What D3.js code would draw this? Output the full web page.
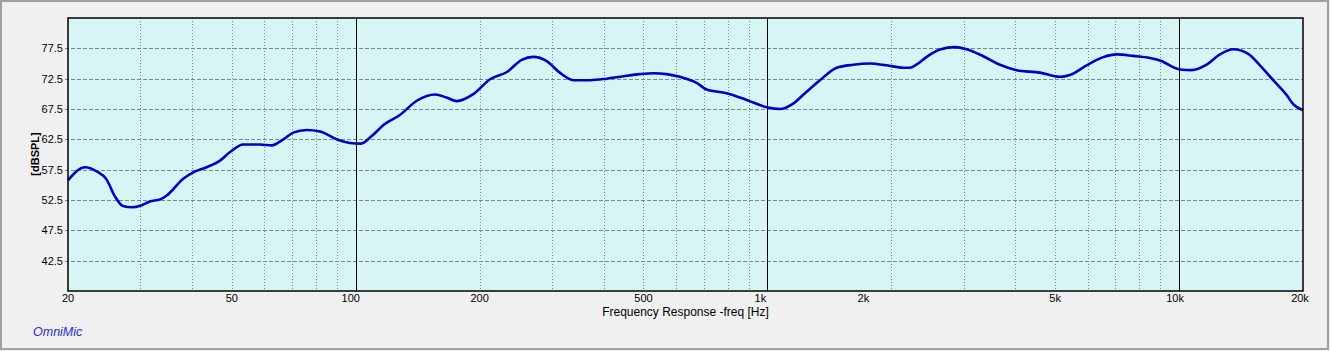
<!DOCTYPE html>
<html>
<head>
<meta charset="utf-8">
<script src="https://cdn.jsdelivr.net/npm/d3@7"></script>
<style>
    body { margin: 0; background: #f0f0f0; }
    svg text { font-family: "Liberation Sans", Arial, sans-serif; }
</style>
</head>
<body>
<div id="chart-area"></div>
<script>
// frequency response
var freqs = [20, 22, 23.5, 24.8, 26, 27.2, 28.6, 30.2, 31.6, 33.5, 34.7, 38.1, 40.3, 43.4, 46.8, 49.5,
    53.3, 58.5, 62.5, 66.7, 70.5, 76, 81.9, 89.9, 96.8, 103, 109, 117, 128, 141, 156, 166, 176, 193,
    212, 233, 253, 270, 291, 313, 338, 371, 407, 447, 490, 528, 569, 613, 673, 712, 796, 890, 996,
    1073, 1155, 1245, 1342, 1473, 1616, 1774, 1948, 2139, 2219, 2300, 2437, 2625, 2854, 3048, 3344,
    3672, 4032, 4592, 5135, 5430, 5963, 6541, 7052, 7738, 8496, 8985, 10046, 10726, 11666, 12568,
    13538, 14725, 15720, 16932, 18251, 18934, 20000];
var spl = [55.75, 57.9, 57.2, 55.9, 53.1, 51.5, 51.3, 51.65, 52.25, 52.6, 53.2, 56.0, 57.05, 57.9, 59.0, 60.4,
    61.65, 61.65, 61.5, 62.5, 63.6, 64.05, 63.8, 62.5, 61.9, 61.8, 62.95, 64.9, 66.5, 68.9, 69.9, 69.4, 68.8, 69.95,
    72.4, 73.6, 75.6, 76.1, 75.4, 73.5, 72.25, 72.25, 72.5, 72.9, 73.25, 73.4, 73.25, 72.8, 71.8, 70.7, 70.1, 69.0, 67.8,
    67.5, 68.4, 70.35, 72.25, 74.3, 74.8, 75.0, 74.7, 74.3, 74.3, 74.8, 76.1, 77.3, 77.7, 77.35, 76.2,
    74.8, 73.9, 73.5, 72.8, 73.1, 74.7, 76.05, 76.5, 76.25, 75.9, 75.5, 74.0, 73.9, 74.8, 76.5,
    77.35, 76.6, 74.7, 72.25, 69.8, 68.3, 67.3];

var yTicks = [42.5, 47.5, 52.5, 57.5, 62.5, 67.5, 72.5, 77.5];
var xTickValues = [20, 50, 100, 200, 500, 1000, 2000, 5000, 10000, 20000];
var xTickLabels = ["20", "50", "100", "200", "500", "1k", "2k", "5k", "10k", "20k"];
var majorFreqs = [100, 1000, 10000];
var minorFreqs = [30, 40, 50, 60, 70, 80, 90, 200, 300, 400, 500, 600, 700, 800, 900,
    2000, 3000, 4000, 5000, 6000, 7000, 8000, 9000];

var W = 1330, H = 351;
var margin = { left: 68, right: 27, top: 18, bottom: 60 };
var width = W - margin.left - margin.right;
var height = H - margin.top - margin.bottom;

// the original program nudges some tick labels off their grid line
var labelNudge = { "100": -5, "1k": -7, "2k": -28, "10k": -4, "20k": -3 };

var svg = d3.select("#chart-area")
    .append("svg")
    .attr("width", W)
    .attr("height", H);

// outer frame
svg.append("rect")
    .attr("x", 1).attr("y", 1)
    .attr("width", W - 3).attr("height", H - 3)
    .attr("fill", "#f0f0f0")
    .attr("stroke", "#a0a0a0")
    .attr("stroke-width", 2);

var g = svg.append("g")
    .attr("transform", "translate(" + margin.left + ", " + margin.top + ")");

var x = d3.scaleLog()
    .domain([20, 20000])
    .range([0, width]);

var y = d3.scaleLinear()
    .domain([37.5, 82.5])
    .range([height, 0]);

// plot background
g.append("rect")
    .attr("width", width)
    .attr("height", height)
    .attr("fill", "#d7f5f5");

// horizontal dashed grid
g.selectAll(".hgrid")
    .data(yTicks)
    .enter()
    .append("line")
    .attr("class", "hgrid")
    .attr("x1", -3).attr("x2", width)
    .attr("y1", function (d) { return Math.round(y(d)) + 0.5; })
    .attr("y2", function (d) { return Math.round(y(d)) + 0.5; })
    .attr("stroke", "#7a8a8a")
    .attr("stroke-dasharray", "4,2");

// vertical dotted grid
g.selectAll(".vgrid")
    .data(minorFreqs)
    .enter()
    .append("line")
    .attr("class", "vgrid")
    .attr("x1", function (d) { return Math.round(x(d)) + 0.5; })
    .attr("x2", function (d) { return Math.round(x(d)) + 0.5; })
    .attr("y1", 0).attr("y2", height)
    .attr("stroke", "#7a8a8a")
    .attr("stroke-dasharray", "1,2");

// decade lines
g.selectAll(".vmajor")
    .data(majorFreqs)
    .enter()
    .append("line")
    .attr("class", "vmajor")
    .attr("x1", function (d) { return Math.round(x(d)) + 0.5; })
    .attr("x2", function (d) { return Math.round(x(d)) + 0.5; })
    .attr("y1", 0).attr("y2", height)
    .attr("stroke", "#000")
    .attr("stroke-width", 1);

// y tick labels
g.selectAll(".ylab")
    .data(yTicks)
    .enter()
    .append("text")
    .attr("class", "ylab")
    .attr("x", -5)
    .attr("y", function (d) { return y(d); })
    .attr("dy", "0.35em")
    .attr("text-anchor", "end")
    .attr("font-size", "11px")
    .attr("fill", "#000")
    .text(function (d) { return d.toFixed(1); });

// x tick labels
g.selectAll(".xlab")
    .data(xTickValues)
    .enter()
    .append("text")
    .attr("class", "xlab")
    .attr("x", function (d) { return x(d); })
    .attr("dx", function (d, i) { return labelNudge[xTickLabels[i]] || 0; })
    .attr("y", height + 11)
    .attr("text-anchor", "middle")
    .attr("font-size", "11px")
    .attr("fill", "#000")
    .text(function (d, i) { return xTickLabels[i]; });

// response curve
var pts = freqs.map(function (f, i) { return [f, spl[i]]; });
var line = d3.line()
    .x(function (d) { return x(d[0]); })
    .y(function (d) { return y(d[1]); })
    .curve(d3.curveMonotoneX);

g.append("path")
    .datum(pts)
    .attr("fill", "none")
    .attr("stroke", "#0000c8")
    .attr("stroke-width", 2.6)
    .attr("stroke-linejoin", "round")
    .attr("d", line);

// plot border
g.append("rect")
    .attr("width", width)
    .attr("height", height)
    .attr("fill", "none")
    .attr("stroke", "#000")
    .attr("stroke-width", 1.5);

// x label
svg.append("text")
    .attr("x", margin.left + width / 2)
    .attr("y", 316)
    .attr("font-size", "12px")
    .attr("text-anchor", "middle")
    .attr("fill", "#000")
    .text("Frequency Response -freq [Hz]");

// y label
svg.append("text")
    .attr("transform", "translate(39, 154) rotate(-90)")
    .attr("font-size", "11px")
    .attr("font-weight", "bold")
    .attr("text-anchor", "middle")
    .attr("fill", "#000")
    .text("[dBSPL]");

svg.append("text")
    .attr("x", 33)
    .attr("y", 336)
    .attr("font-size", "12.5px")
    .attr("font-style", "italic")
    .attr("fill", "#2a2ad0")
    .text("OmniMic");
</script>
</body>
</html>
